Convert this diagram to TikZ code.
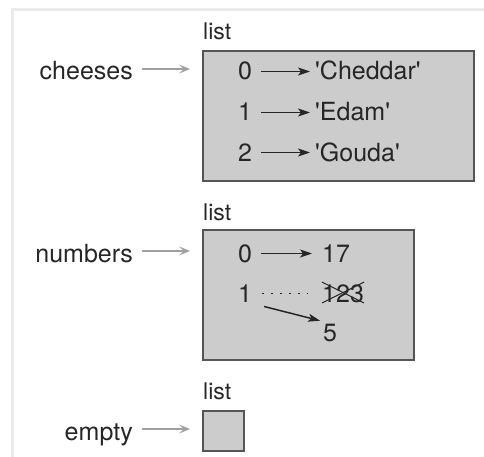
\documentclass[tikz,border=0pt]{standalone}
\usepackage{fontspec}
\setmainfont{TeX Gyre Heros}
\usetikzlibrary{arrows.meta}
\definecolor{boxfill}{HTML}{CCCCCC}
\definecolor{boxline}{HTML}{555555}
\definecolor{refgray}{HTML}{A0A0A0}
\definecolor{framegray}{HTML}{EBEBEB}
\begin{document}
\begin{tikzpicture}[x=1pt,y=-1pt,
  txt/.style={inner sep=0pt,font=\fontsize{25}{28}\selectfont,text=black!85},
  lbl/.style={inner sep=0pt,font=\fontsize{23}{26}\selectfont,text=black!85},
  listbox/.style={draw=boxline,fill=boxfill,line width=2pt,inner sep=0pt,anchor=north west},
  varrow/.style={draw=refgray,line width=1.8pt,-{Stealth[length=11pt,width=9pt,inset=5pt]}},
  iarrow/.style={draw=black!85,line width=1.5pt,-{Stealth[length=12pt,width=8pt,inset=3pt]}}
]
\useasboundingbox (0,0) rectangle (484,457);
\draw[framegray,line width=3pt] (12,457) -- (12,10) -- (484,10);

% boxes
\node[listbox,minimum width=271pt,minimum height=130pt] (box1) at (202,50) {};
\node[listbox,minimum width=211pt,minimum height=130pt] (box2) at (202,229) {};
\node[listbox,minimum width=41pt,minimum height=40pt] (box3) at (202,410) {};

% list labels
\node[lbl,anchor=base west] (l1) at (203,40) {list};
\node[lbl,anchor=base west] (l2) at (203,220) {list};
\node[lbl,anchor=base west] (l3) at (203,399) {list};

% variable names
\node[txt,anchor=base east] (cheeses) at (133,80) {cheeses};
\node[txt,anchor=base east] (numbers) at (133,262) {numbers};
\node[txt,anchor=base east] (empty) at (133,440) {empty};

\draw[varrow,shorten <=9pt,shorten >=12pt] ([yshift=11pt]cheeses.base east) -- ([yshift=11pt]cheeses.base east -| box1.west);
\draw[varrow,shorten <=9pt,shorten >=12pt] ([yshift=11pt]numbers.base east) -- ([yshift=11pt]numbers.base east -| box2.west);
\draw[varrow,shorten <=9pt,shorten >=12pt] ([yshift=11pt]empty.base east) -- ([yshift=11pt]empty.base east -| box3.west);

% cheeses list
\node[txt,anchor=base] (c0) at (245,80) {0};
\node[txt,anchor=base] (c1) at (245,121) {1};
\node[txt,anchor=base] (c2) at (245,161) {2};
\node[txt,anchor=base west] (cv0) at (315,80) {\textquotesingle Cheddar\textquotesingle};
\node[txt,anchor=base west] (cv1) at (315,121) {\textquotesingle Edam\textquotesingle};
\node[txt,anchor=base west] (cv2) at (315,161) {\textquotesingle Gouda\textquotesingle};
\draw[iarrow,shorten <=9pt,shorten >=5pt] ([yshift=8.5pt]c0.base east) -- ([yshift=8.5pt]cv0.base west);
\draw[iarrow,shorten <=9pt,shorten >=5pt] ([yshift=8.5pt]c1.base east) -- ([yshift=8.5pt]cv1.base west);
\draw[iarrow,shorten <=9pt,shorten >=5pt] ([yshift=8.5pt]c2.base east) -- ([yshift=8.5pt]cv2.base west);

% numbers list
\node[txt,anchor=base] (n0) at (245,262) {0};
\node[txt,anchor=base] (n1) at (245,302) {1};
\node[txt,anchor=base west] (nv0) at (322,262) {17};
\node[txt,anchor=base west] (nvold) at (322,302) {123};
\node[txt,anchor=base west] (nv1) at (323,341) {5};
\draw[iarrow,shorten <=9pt,shorten >=10pt] ([yshift=8.5pt]n0.base east) -- ([yshift=8.5pt]nv0.base west);
\draw[black!85,line width=1pt,dash pattern=on 2pt off 7pt,shorten <=10pt,shorten >=14pt] ([yshift=9pt]n1.base east) -- ([yshift=9pt]nvold.base west);
\draw[black!85,line width=1pt] ([yshift=2pt]nvold.north west) -- ([yshift=-1pt]nvold.base east);
\draw[black!85,line width=1pt] ([yshift=-1pt]nvold.base west) -- ([yshift=2pt]nvold.north east);
\draw[iarrow,shorten <=2pt,shorten >=3pt] ([xshift=10pt,yshift=-4pt]n1.base east) -- ([yshift=2pt]nv1.north west);
\end{tikzpicture}
\end{document}
